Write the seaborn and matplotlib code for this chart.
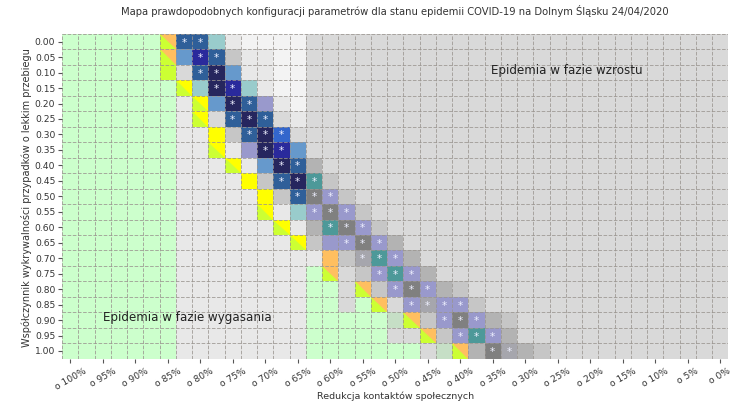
import numpy as np
import seaborn as sns
import matplotlib.pyplot as plt
from matplotlib.colors import ListedColormap
from matplotlib.patches import Polygon

# detection coefficient (rows) and contact reduction (every 2nd column labelled)
y_labels = ['0.00', '0.05', '0.10', '0.15', '0.20', '0.25', '0.30', '0.35', '0.40',
            '0.45', '0.50', '0.55', '0.60', '0.65', '0.70', '0.75', '0.80', '0.85',
            '0.90', '0.95', '1.00']
x_labels = ['o 100%', 'o 95%', 'o 90%', 'o 85%', 'o 80%', 'o 75%', 'o 70%', 'o 65%',
            'o 60%', 'o 55%', 'o 50%', 'o 45%', 'o 40%', 'o 35%', 'o 30%', 'o 25%',
            'o 20%', 'o 15%', 'o 10%', 'o 5%', 'o 0%']
n_cols = 41

# cell classes, one character per cell
palette = {
    'G': '#ccffcc',  # wygasanie
    'L': '#e8e8e8',
    'W': '#f3f3f3',
    'D': '#d9d9d9',  # wzrost
    'M': '#c6c6c6',
    'S': '#b3b3b3',
    'R': '#a6a6ad',
    'g': '#c6dfc6',
    'Y': '#ffff00',
    'y': '#ffff00',
    'O': '#ffbf60',
    'o': '#ffbf60',
    'V': '#ccff33',
    'N': '#26265e',
    'B': '#2a2a9c',
    'b': '#2f5f99',
    'C': '#3366cc',
    'c': '#6699cc',
    't': '#99cccc',
    'P': '#9999cc',
    'K': '#808080',
    'T': '#4d9999',
}
cells = [
    'GGGGGGobbtLWWWW' + 'D' * 26,
    'GGGGGGocBbMLLWW' + 'D' * 26,
    'GGGGGGVDbNcLLWW' + 'D' * 26,
    'GGGGGGGytNBtLWW' + 'D' * 26,
    'GGGGGGGLycNbPLW' + 'D' * 26,
    'GGGGGGGLyDbNbDL' + 'D' * 26,
    'GGGGGGGLLYMbNCD' + 'D' * 26,
    'GGGGGGGLLyLPNBc' + 'D' * 26,
    'GGGGGGGLLLyLcNbS' + 'D' * 25,
    'GGGGGGGLLLLYMbNTM' + 'D' * 24,
    'GGGGGGGLLLLLYMbKPM' + 'D' * 23,
    'GGGGGGGLLLLLyLtPKPM' + 'D' * 22,
    'GGGGGGGLLLLLLyLSTKPM' + 'D' * 21,
    'GGGGGGGLLLLLLLyMPPKPS' + 'D' * 20,
    'GGGGGGGLLLLLLLLLOMRTPS' + 'D' * 19,
    'GGGGGGGLLLLLLLLGoDMPTPS' + 'D' * 18,
    'GGGGGGGLLLLLLLLGGDoMPKPSM' + 'D' * 16,
    'GGGGGGGLLLLLLLLGGDGoDPRPPM' + 'D' * 15,
    'GGGGGGGLLLLLLLLGGGGGgoMPKPSM' + 'D' * 13,
    'GGGGGGGLLLLLLLLGGGGGDDoMPTPS' + 'D' * 13,
    'GGGGGGGLLLLLLLLGGGGGGGDgoSKRSM' + 'D' * 11,
]
# cells marked with a star (most likely configurations)
star_cols = [[7, 8], [8, 9], [8, 9], [9, 10], [10, 11], [10, 11, 12], [11, 12, 13],
             [12, 13], [13, 14], [13, 14, 15], [14, 15, 16], [15, 16, 17], [16, 17, 18],
             [17, 18, 19], [18, 19, 20], [19, 20, 21], [20, 21, 22], [21, 22, 23, 24],
             [23, 24, 25], [24, 25, 26], [26, 27]]

codes = list(palette.keys())
grid = np.array([[codes.index(ch) for ch in row] for row in cells])
annot = np.full(grid.shape, '', dtype=object)
for r, cs in enumerate(star_cols):
    for c in cs:
        annot[r, c] = '*'

sns.set_theme(style='white', rc={'axes.edgecolor': 'white'})
plt.rcParams['font.family'] = ['DejaVu Sans']

fig = plt.figure(figsize=(7.5, 4.06), dpi=100)
ax = fig.add_axes([0.083, 0.114, 0.888, 0.80])
cmap = ListedColormap([palette[k] for k in codes])
sns.heatmap(grid, ax=ax, cmap=cmap, vmin=-0.5, vmax=len(codes) - 0.5, cbar=False,
            annot=annot, fmt='', annot_kws={'color': '#eef0ff', 'fontsize': 7.5,
                                            'va': 'center'})

# split cells: lime lower-left triangle
for r, row in enumerate(cells):
    for c, ch in enumerate(row):
        if ch in 'oy':
            ax.add_patch(Polygon([(c, r), (c, r + 1), (c + 1, r + 1)],
                                 closed=True, facecolor='#ccff33', edgecolor='none'))

ax.set_xticks(np.arange(0, n_cols, 2) + 0.5)
ax.set_xticklabels(x_labels, rotation=30, ha='center', fontsize=6.6, color='#333333')
ax.set_yticks(np.arange(len(y_labels)) + 0.5)
ax.set_yticklabels(y_labels, rotation=0, fontsize=6.6, color='#333333')
ax.set_xticks(np.arange(n_cols + 1), minor=True)
ax.set_yticks(np.arange(len(y_labels) + 1), minor=True)
ax.tick_params(which='major', length=3, width=0.8, color='#555555', bottom=True, left=True,
               pad=2)
ax.tick_params(which='minor', length=0)
ax.grid(which='minor', color='#9a9590', linestyle='--', linewidth=0.7, alpha=0.8)
ax.set_axisbelow(False)

ax.text(26.4, 2.3, 'Epidemia w fazie wzrostu', fontsize=8.6, va='center', color='#222222')
ax.text(2.5, 18.25, 'Epidemia w fazie wygasania', fontsize=8.6, va='center', color='#222222')

ax.set_title('Mapa prawdopodobnych konfiguracji parametrów dla stanu epidemii '
             'COVID-19 na Dolnym Śląsku 24/04/2020', fontsize=7.2, color='#333333', pad=14)
ax.set_xlabel('Redukcja kontaktów społecznych', fontsize=6.8, color='#333333', labelpad=0)
ax.set_ylabel('Współczynnik wykrywalności przypadków o lekkim przebiegu',
              fontsize=7, color='#333333', labelpad=2)

fig.savefig('out.png', dpi=100)
